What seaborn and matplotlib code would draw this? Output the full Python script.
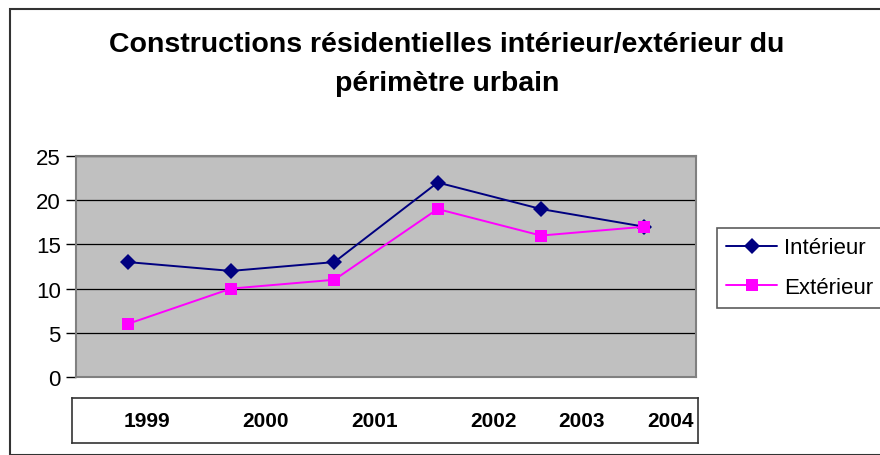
import numpy as np
import pandas as pd
import matplotlib
matplotlib.use("Agg")
import matplotlib.pyplot as plt
from matplotlib.patches import Rectangle
import seaborn as sns

years = ["1999", "2000", "2001", "2002", "2003", "2004"]
interieur = [13, 12, 13, 22, 19, 17]
exterieur = [6, 10, 11, 19, 16, 17]
series_names = ["Intérieur", "Extérieur"]
title_lines = ["Constructions résidentielles intérieur/extérieur du", "périmètre urbain"]

# where Excel drew the year labels inside the box (category units)
label_pos = [0.19, 1.33, 2.39, 3.54, 4.39, 5.25]

df = pd.DataFrame({
    "idx": list(range(len(years))) * 2,
    "value": interieur + exterieur,
    "serie": [series_names[0]] * len(years) + [series_names[1]] * len(years),
})

sns.set_style("white")
plt.rcParams["font.family"] = ["Liberation Sans", "DejaVu Sans"]
plt.rcParams["text.color"] = "black"
plt.rcParams["ytick.color"] = "black"
plt.rcParams["xtick.color"] = "black"

W, H = 880, 456
fig = plt.figure(figsize=(W / 100, H / 100), dpi=100)

# outer chart border
fig.add_artist(Rectangle((10 / W, 0), 1, 1 - 10 / H, transform=fig.transFigure,
                         fill=False, edgecolor="#333333", linewidth=1.5))

ax = fig.add_axes([76 / W, 1 - 378 / H, 620 / W, 221 / H])
ax.set_facecolor("#C0C0C0")

sns.lineplot(data=df, x="idx", y="value", hue="serie", style="serie",
             palette={"Intérieur": "#000080", "Extérieur": "#FF00FF"},
             markers={"Intérieur": "D", "Extérieur": "s"},
             dashes=False, markersize=8.5, markeredgewidth=0, linewidth=1.4,
             ax=ax, legend=False)

ax.set_xlim(-0.5, len(years) - 0.5)
ax.set_ylim(0, 25)
ax.set_yticks(range(0, 26, 5))
ax.yaxis.grid(True, color="black", linewidth=0.9)
ax.set_axisbelow(True)
ax.set_xticks([])
ax.set_xlabel("")
ax.set_ylabel("")
for s in ax.spines.values():
    s.set_color("#808080")
    s.set_linewidth(1.5)
ax.tick_params(axis="y", left=True, length=7, width=1, color="black",
               labelsize=16, pad=4)

# year labels box
bx = fig.add_axes([72 / W, 1 - 444 / H, 626 / W, 45 / H])
bx.set_xlim(-0.5 - 4 / 103.3, len(years) - 0.5 + 2 / 103.3)
bx.set_ylim(0, 1)
bx.set_yticks([])
bx.set_xticks([])
for i, y in enumerate(years):
    bx.text(label_pos[i], 0.5, y, ha="center", va="center",
            fontsize=15, fontweight="bold")
for s in bx.spines.values():
    s.set_color("#333333")
    s.set_linewidth(1.2)

fig.text(447 / W, 1 - 45 / H, title_lines[0], ha="center", va="center",
         fontsize=20.5, fontweight="bold")
fig.text(447 / W, 1 - 84 / H, title_lines[1], ha="center", va="center",
         fontsize=20.5, fontweight="bold")

handles = [
    plt.Line2D([], [], color="#000080", marker="D", markersize=8.5,
               markeredgewidth=0, linewidth=1.4),
    plt.Line2D([], [], color="#FF00FF", marker="s", markersize=8.5,
               markeredgewidth=0, linewidth=1.4),
]
leg = fig.legend(handles, series_names, loc="upper left",
                 bbox_to_anchor=(717 / W, 1 - 229 / H),
                 fontsize=16, frameon=True, fancybox=False,
                 edgecolor="#333333", handlelength=2.3, handletextpad=0.3,
                 borderpad=0.42, labelspacing=0.85, borderaxespad=0)
leg.get_frame().set_linewidth(1.2)

fig.savefig("out.png", dpi=100)
